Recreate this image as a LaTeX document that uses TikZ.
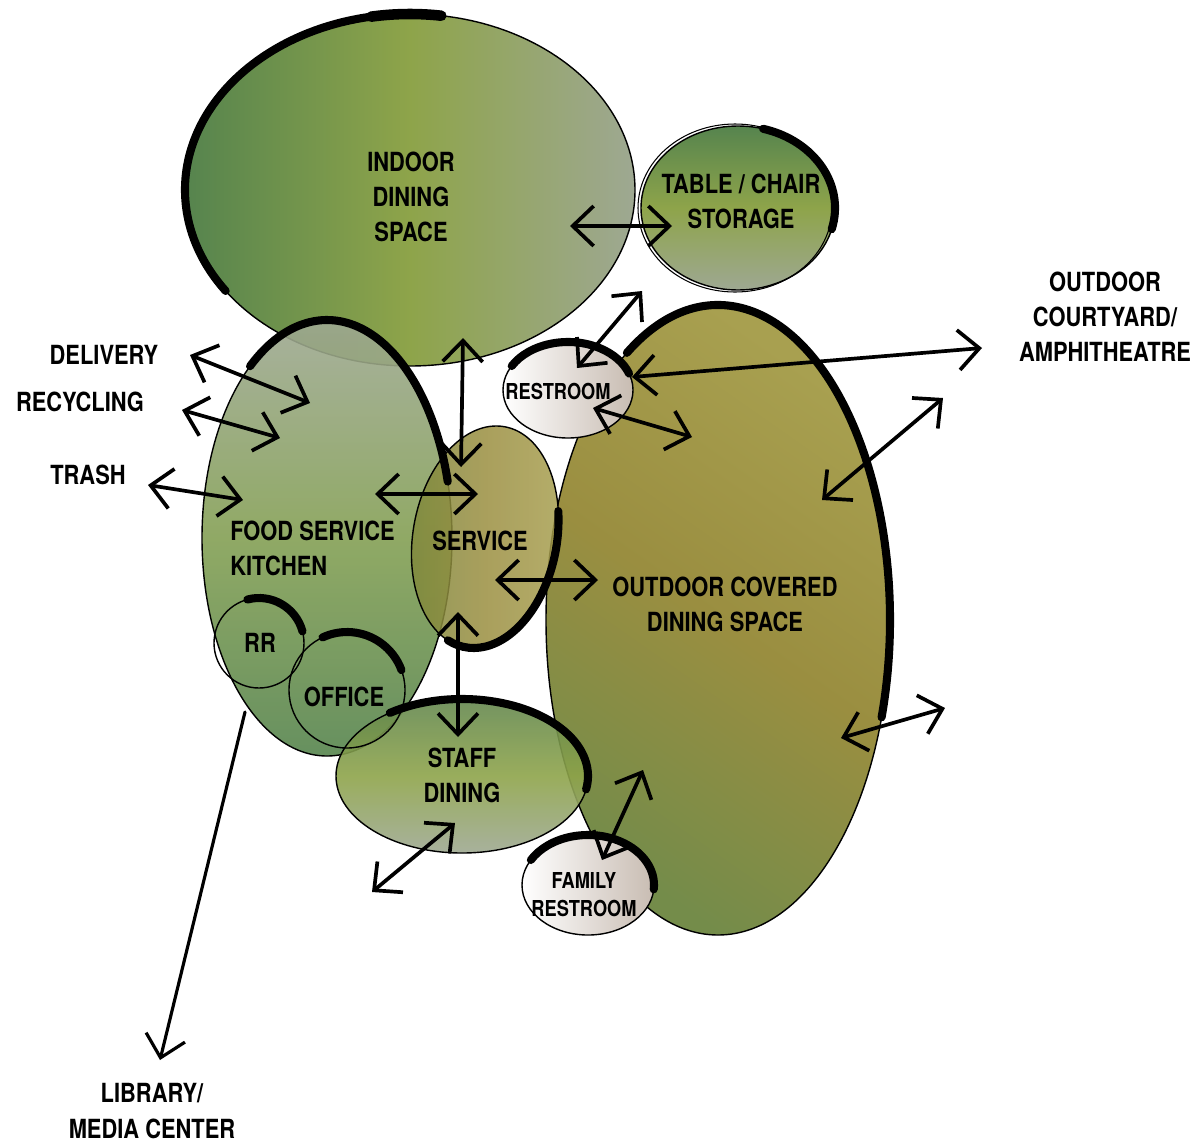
\documentclass[tikz,border=0pt]{standalone}
\usepackage{fontspec}
\setmainfont{TeX Gyre Heros}[FakeStretch=0.83]
\usetikzlibrary{arrows.meta}
\definecolor{darkgreen}{RGB}{86,132,78}
\definecolor{midgreen}{RGB}{142,164,74}
\definecolor{greygreen}{RGB}{158,168,146}
\definecolor{olivelt}{RGB}{168,160,80}
\definecolor{olivedk}{RGB}{154,142,64}
\definecolor{olivegr}{RGB}{116,140,74}
\definecolor{stone}{RGB}{200,188,178}
\tikzset{
	room/.style={draw=black, line width=0.8pt},
	brush/.style={line width=4.6pt},
	lbl/.style={font=\bfseries\fontsize{15}{20}\selectfont, align=center, inner sep=0pt},
	lblsm/.style={lbl, font=\bfseries\fontsize{12.5}{16}\selectfont},
	link/.style={<->, line width=2.1pt},
}
\begin{document}
\begin{tikzpicture}[x=0.02cm, y=0.02cm, line join=round, line cap=round,
	>={Straight Barb[length=0.42cm, width=0.8cm]}]
	\useasboundingbox (0,0) rectangle (1203,-1143);
	% bubbles
	\shadedraw[room, left color=darkgreen, right color=greygreen, middle color=midgreen] (410,-190) ellipse [x radius=225, y radius=176];
	\shadedraw[room, top color=darkgreen, bottom color=greygreen, middle color=midgreen] (738,-208) ellipse [x radius=97, y radius=82];
	\draw[line width=0.6pt] (735,-208) ellipse [x radius=97, y radius=84];
	\shadedraw[room, top color=olivelt, bottom color=olivegr, middle color=olivedk, shading angle=-35] (718,-620) ellipse [x radius=172, y radius=315];
	\shadedraw[room, fill opacity=0.9, top color=greygreen, bottom color=darkgreen, middle color={rgb,255:red,132;green,160;blue,84}] (327,-538) ellipse [x radius=125, y radius=218];
	\begin{scope}[shift={(485,-537)}, rotate=-10]
		\shadedraw[room, fill opacity=0.85, left color={rgb,255:red,124;green,136;blue,60}, right color=olivelt, middle color=olivedk] (0,0) ellipse [x radius=72, y radius=112];
		\draw[brush] (0,0) ++(20:72 and 112) arc[start angle=20, end angle=-105, x radius=72, y radius=112];
	\end{scope}
	\shadedraw[room, left color=white, right color=stone] (568,-390) ellipse [x radius=65, y radius=48];
	\shadedraw[room, fill opacity=0.9, top color={rgb,255:red,100;green,136;blue,80}, bottom color=greygreen, middle color=midgreen] (462,-776) ellipse [x radius=126, y radius=77];
	\shadedraw[room, left color=white, right color=stone] (588,-885) ellipse [x radius=66, y radius=50];
	\draw[room] (259,-643) circle [radius=45];
	\draw[room] (347,-690) circle [radius=58];
	% brush strokes
	\draw[brush] (410,-190) ++(95:225 and 176) arc[start angle=95, end angle=215, x radius=225, y radius=176];
	\draw[line width=6pt] (410,-190) ++(82:225 and 176) arc[start angle=82, end angle=100, x radius=225, y radius=176];
	\draw[brush] (738,-208) ++(75:97 and 82) arc[start angle=75, end angle=-15, x radius=97, y radius=82];
	\draw[brush] (718,-620) ++(122:172 and 315) arc[start angle=122, end angle=-18, x radius=172, y radius=315];
	\draw[brush] (327,-538) ++(128:125 and 218) arc[start angle=128, end angle=15, x radius=125, y radius=218];
	\draw[brush] (568,-390) ++(150:65 and 48) arc[start angle=150, end angle=20, x radius=65, y radius=48];
	\draw[brush] (462,-776) ++(125:126 and 77) arc[start angle=125, end angle=-10, x radius=126, y radius=77];
	\draw[brush] (588,-885) ++(150:66 and 50) arc[start angle=150, end angle=-5, x radius=66, y radius=50];
	\draw[brush] (259,-643) ++(105:45) arc[start angle=105, end angle=15, radius=45];
	\draw[brush] (347,-690) ++(115:58) arc[start angle=115, end angle=20, radius=58];
	% labels
	\node[lbl] (indoor) at (411,-197) {INDOOR\\DINING\\SPACE};
	\node[lbl] (storage) at (741,-201) {TABLE / CHAIR\\STORAGE};
	\node[lbl, anchor=west, align=left] (kitchen) at (230,-548) {FOOD SERVICE\\KITCHEN};
	\node[lbl] (service) at (480,-541) {SERVICE};
	\node[lbl] (covered) at (725,-604) {OUTDOOR COVERED\\DINING SPACE};
	\node[lblsm] (restroom) at (558,-391) {RESTROOM};
	\node[lbl] (rr) at (260,-643) {RR};
	\node[lbl] (office) at (344,-697) {OFFICE};
	\node[lbl] (staff) at (462,-775) {STAFF\\DINING};
	\node[lblsm] (family) at (584,-895) {FAMILY\\RESTROOM};
	\node[lbl] (delivery) at (104,-355) {DELIVERY};
	\node[lbl] (recycling) at (80,-402) {RECYCLING};
	\node[lbl] (trash) at (88,-475) {TRASH};
	\node[lbl] (courtyard) at (1105,-317) {OUTDOOR\\COURTYARD/\\AMPHITHEATRE};
	\node[lbl] (library) at (152,-1111) {LIBRARY/\\MEDIA CENTER};
	% links
	\draw[link] (570,-226) -- (672,-226);
	\draw[link] (577,-368) -- (642,-291);
	\draw[link] (632,-377) -- (982,-348);
	\draw[link] (593,-408) -- (692,-437);
	\draw[link] (463,-338) -- (461,-467);
	\draw[link] (190,-355) -- (310,-403);
	\draw[link] (182,-410) -- (280,-438);
	\draw[link] (148,-485) -- (243,-500);
	\draw[link] (375,-494) -- (478,-494);
	\draw[link] (495,-580) -- (598,-580);
	\draw[link] (458,-612) -- (458,-737);
	\draw[link] (822,-500) -- (943,-398);
	\draw[link] (841,-738) -- (945,-708);
	\draw[link] (602,-860) -- (643,-770);
	\draw[link] (372,-892) -- (455,-823);
	\draw[->, line width=1.8pt] (245,-712) -- (160,-1060);
\end{tikzpicture}
\end{document}
